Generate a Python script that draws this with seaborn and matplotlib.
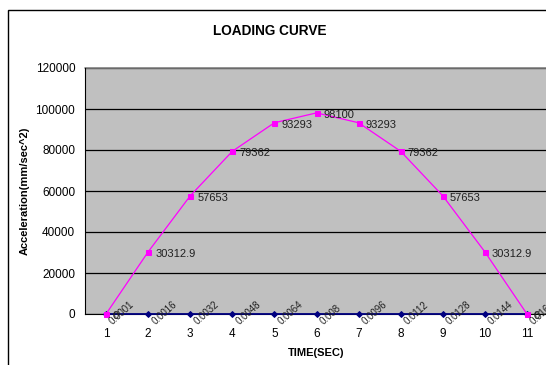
import matplotlib
matplotlib.use("Agg")
import matplotlib.pyplot as plt
import seaborn as sns
import pandas as pd
from matplotlib.patches import Rectangle

time_idx = [1, 2, 3, 4, 5, 6, 7, 8, 9, 10, 11]
accel = [0, 30312.9, 57653, 79362, 93293, 98100, 93293, 79362, 57653, 30312.9, 0]
time_sec = [0.0001, 0.0016, 0.0032, 0.0048, 0.0064, 0.008, 0.0096, 0.0112, 0.0128, 0.0144, 0.016]
accel_labels = ["0", "30312.9", "57653", "79362", "93293", "98100", "93293", "79362", "57653", "30312.9", "0"]
yticks = [0, 20000, 40000, 60000, 80000, 100000, 120000]

sns.set_style("white")
plt.rcParams['font.family'] = ['Liberation Sans', 'DejaVu Sans']
plt.rcParams['text.color'] = 'black'
plt.rcParams['axes.labelcolor'] = 'black'
plt.rcParams['xtick.color'] = 'black'
plt.rcParams['ytick.color'] = 'black'

fig = plt.figure(figsize=(5.46, 3.65), dpi=100)
fig.patches.append(Rectangle((8/546, -0.1), 1.2, 1 - 10/365 + 0.1, transform=fig.transFigure,
                             fill=False, edgecolor='black', linewidth=1.0))
ax = fig.add_axes([85/546, 1 - 314/365, (548 - 85)/546, (314 - 68)/365])
ax.set_facecolor('#c0c0c0')

df = pd.DataFrame({'idx': time_idx, 'accel': accel, 'time': time_sec, 'zero': [0]*len(time_idx)})
sns.lineplot(data=df, x='idx', y='zero', ax=ax, color='#000080', marker='D',
             markersize=3, markeredgecolor='#000080', linewidth=1.3, zorder=5, clip_on=False)
sns.lineplot(data=df, x='idx', y='accel', ax=ax, color='#ff00ff', marker='s',
             markersize=3.6, markeredgecolor='#ff00ff', linewidth=0.9, zorder=6, clip_on=False)

ax.set_xlim(0.5, 11.5)
ax.set_ylim(0, 120000)
ax.set_yticks(yticks)
ax.set_yticklabels([str(v) for v in yticks], fontsize=8.5)
ax.set_xticks(time_idx)
ax.set_xticklabels([str(v) for v in time_idx], fontsize=8.5)
ax.grid(axis='y', color='black', linewidth=0.9)
ax.set_axisbelow(True)
for s in ['top', 'right']:
    ax.spines[s].set_visible(False)
ax.spines['left'].set_color('black')
ax.spines['bottom'].set_color('black')
ax.spines['left'].set_linewidth(0.8)
ax.tick_params(axis='y', length=4, direction='inout', width=0.8, pad=5)
ax.tick_params(axis='x', length=0, pad=10)
ax.plot([0.5, 11.5], [120000, 120000], color='#808080', linewidth=1.2, clip_on=False, zorder=2)

ax.set_xlabel('TIME(SEC)', fontsize=8, fontweight='bold', labelpad=6)
ax.set_ylabel('Acceleration(mm/sec^2)', fontsize=8, fontweight='bold', labelpad=4)
fig.text(270/546, 1 - 31/365, 'LOADING CURVE', ha='center', va='center',
         fontsize=9.8, fontweight='bold')

for x, y, lab in zip(time_idx, accel, accel_labels):
    ax.annotate(lab, (x, y), xytext=(5, -1.5), textcoords='offset points',
                ha='left', va='center', fontsize=8, color='#202020', zorder=7)
for x, t in zip(time_idx, time_sec):
    ax.annotate('%g' % t, (x, 0), xytext=(6, -9), textcoords='offset points',
                ha='left', va='bottom', rotation=42, rotation_mode='anchor',
                fontsize=7, color='#202020', annotation_clip=False, zorder=7)

fig.savefig('out.png', dpi=100)
